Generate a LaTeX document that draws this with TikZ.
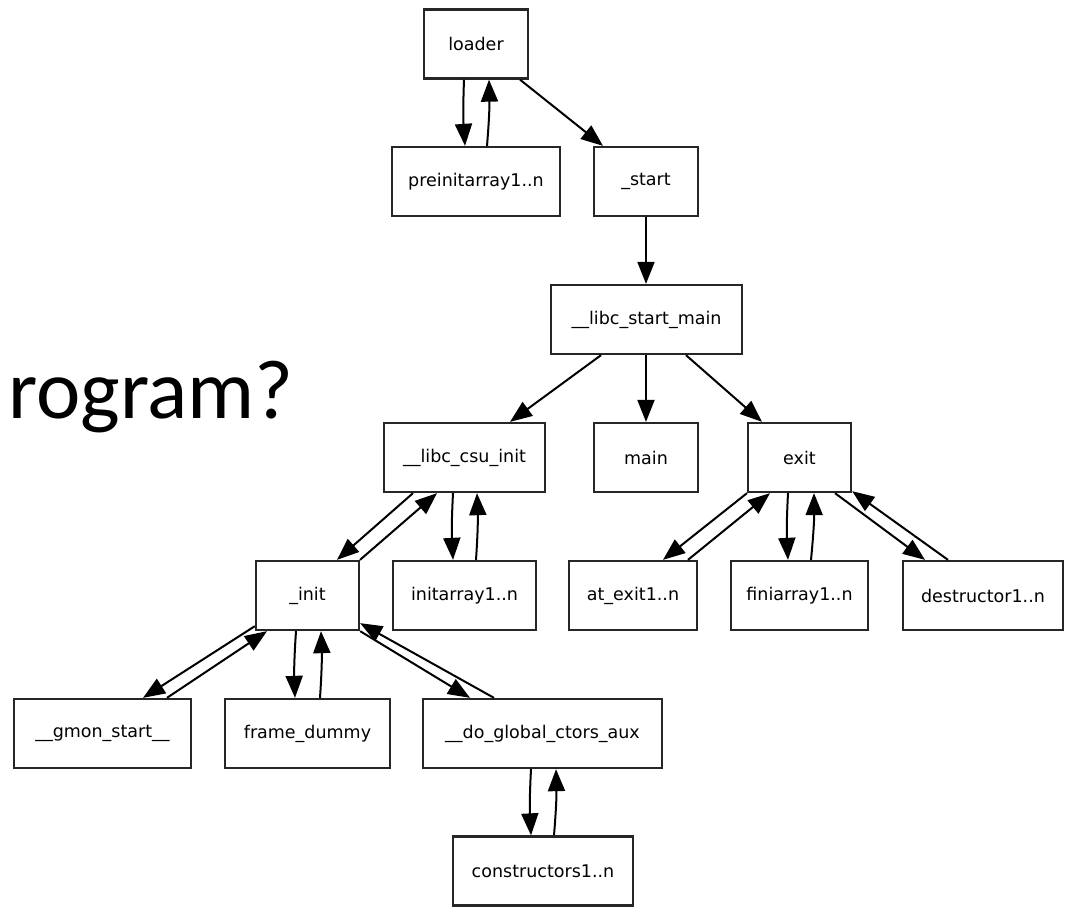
\documentclass[tikz,border=0pt]{standalone}
\usepackage{fontspec}
\newfontfamily\boxfont{DejaVu Sans}
\newfontfamily\slidefont{Carlito}
\usetikzlibrary{arrows.meta}
\tikzset{
  fn/.style={draw=black!85, line width=2.3pt, rectangle, minimum height=69pt,
    inner sep=0pt, font=\boxfont\fontsize{17.5}{20}\selectfont},
  call/.style={line width=2pt, -{Triangle[length=22pt, width=17pt]}},
}
\begin{document}
\begin{tikzpicture}[x=1pt, y=-1pt]
\useasboundingbox (0,0) rectangle (1071,906);

% slide title fragment behind the graph
\node[anchor=base west, inner sep=0pt, font=\slidefont\fontsize{84}{96}\selectfont] (title) at (8,418) {rogram?};

% call graph nodes
\node[fn, minimum width=104pt] (loader)  at (476,44)    {loader};
\node[fn, minimum width=168pt] (pre)     at (476,181.5) {preinitarray1..n};
\node[fn, minimum width=104pt] (start)   at (646,181.5) {\_start};
\node[fn, minimum width=191pt] (lsm)     at (646.5,319.5) {\_\_libc\_start\_main};
\node[fn, minimum width=161pt] (csu)     at (464.5,457.5) {\_\_libc\_csu\_init};
\node[fn, minimum width=104pt] (main)    at (646,457.5) {main};
\node[fn, minimum width=103pt] (exit)    at (799.5,457.5) {exit};
\node[fn, minimum width=103pt] (init)    at (307.5,595.5) {\_init};
\node[fn, minimum width=143pt] (initarr) at (464.5,595.5) {initarray1..n};
\node[fn, minimum width=128pt] (atexit)  at (633,595.5) {at\_exit1..n};
\node[fn, minimum width=137pt] (fini)    at (799.5,595.5) {finiarray1..n};
\node[fn, minimum width=160pt] (dest)    at (983,595.5) {destructor1..n};
\node[fn, minimum width=177pt] (gmon)    at (102.5,733.5) {\_\_gmon\_start\_\_};
\node[fn, minimum width=165pt] (frame)   at (307.5,733.5) {frame\_dummy};
\node[fn, minimum width=239pt] (dga)     at (542.5,733.5) {\_\_do\_global\_ctors\_aux};
\node[fn, minimum width=180pt] (ctor)    at (543,871) {constructors1..n};

% calls and returns
\draw[call] ([xshift=-12pt]loader.south) to[bend right=3] ([xshift=-11pt]pre.north);
\draw[call] ([xshift=11pt]pre.north) to[bend right=3] ([xshift=13pt]loader.south);
\draw[call] ([xshift=44pt]loader.south) -- ([xshift=-43pt]start.north);
\draw[call] (start.south) -- (lsm.north -| start.south);
\draw[call] ([xshift=-45.5pt]lsm.south) -- ([xshift=45.5pt]csu.north);
\draw[call] (lsm.south -| main.north) -- (main.north);
\draw[call] ([xshift=39.5pt]lsm.south) -- ([xshift=-37.5pt]exit.north);

\draw[call] ([xshift=-51.5pt]csu.south) -- ([xshift=29.5pt]init.north);
\draw[call] ([xshift=52.5pt]init.north) -- ([xshift=-27.5pt]csu.south);
\draw[call] ([xshift=-11.5pt]csu.south) to[bend right=3] ([xshift=-11.5pt]initarr.north);
\draw[call] ([xshift=11.5pt]initarr.north) to[bend right=3] ([xshift=12.5pt]csu.south);

\draw[call] ([xshift=-52.5pt]exit.south) -- ([xshift=30pt]atexit.north);
\draw[call] ([xshift=55pt]atexit.north) -- ([xshift=-29.5pt]exit.south);
\draw[call] ([xshift=-11.5pt]exit.south) to[bend right=3] ([xshift=-11.5pt]fini.north);
\draw[call] ([xshift=11.5pt]fini.north) to[bend right=3] ([xshift=14.5pt]exit.south);
\draw[call] ([xshift=35.5pt]exit.south) -- ([xshift=-58pt]dest.north);
\draw[call] ([xshift=-35pt]dest.north) -- ([yshift=2pt]exit.south east);

\draw[call] ([yshift=5pt]init.south west) -- ([xshift=40.5pt]gmon.north);
\draw[call] ([xshift=64.5pt]gmon.north) -- ([xshift=-40.5pt]init.south);
\draw[call] ([xshift=-11.5pt]init.south) to[bend right=3] ([xshift=-12.5pt]frame.north);
\draw[call] ([xshift=12.5pt]frame.north) to[bend right=3] ([xshift=13.5pt]init.south);
\draw[call] (init.south east) -- ([xshift=-72.5pt]dga.north);
\draw[call] ([xshift=-48.5pt]dga.north) -- ([yshift=8pt]init.south east);

\draw[call] ([xshift=-11.5pt]dga.south) to[bend right=3] ([xshift=-12pt]ctor.north);
\draw[call] ([xshift=11pt]ctor.north) to[bend right=3] ([xshift=13.5pt]dga.south);
\end{tikzpicture}
\end{document}
